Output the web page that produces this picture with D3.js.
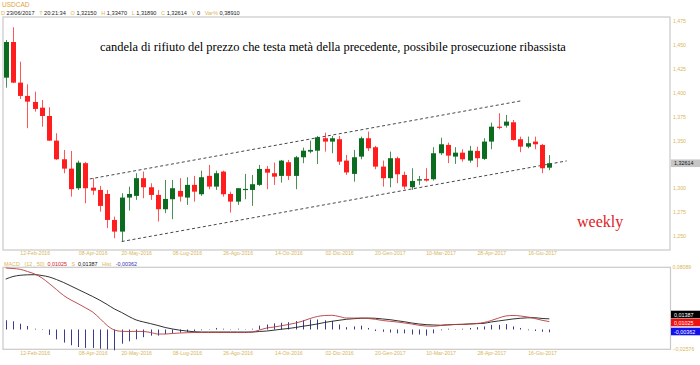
<!DOCTYPE html>
<html><head><meta charset="utf-8">
<script src="https://cdn.jsdelivr.net/npm/d3@7"></script>
<style>
html,body{margin:0;padding:0;background:#fff;}
svg{display:block;font-family:"Liberation Sans",Arial,sans-serif;}
</style></head>
<body>
<svg id="c" width="700" height="365"></svg>
<script>
// ---- data (weekly USDCAD candles, 15-Jan-2016 .. 23-Jun-2017) ----
const openV  = [1.4157,1.4530,1.4105,1.3966,1.3903,1.3843,1.3756,1.3498,1.3303,1.3205,1.3000,1.3262,1.3006,1.2982,1.2940,1.2668,1.2546,1.2902,1.2920,1.3105,1.3010,1.2930,1.2780,1.2885,1.2972,1.2902,1.3035,1.2937,1.3129,1.3017,1.3174,1.2940,1.2860,1.2982,1.2982,1.3035,1.3202,1.3157,1.3129,1.3272,1.3129,1.3324,1.3383,1.3393,1.3523,1.3488,1.3513,1.3289,1.3150,1.3331,1.3523,1.3429,1.3226,1.3105,1.3314,1.3139,1.3010,1.3080,1.3097,1.3094,1.3366,1.3453,1.3331,1.3372,1.3289,1.3390,1.3307,1.3488,1.3644,1.3655,1.3690,1.3513,1.3435,1.3488,1.3453,1.3215];
const highV  = [1.4551,1.4684,1.4324,1.4088,1.4010,1.3924,1.3847,1.3575,1.3401,1.3390,1.3289,1.3275,1.3105,1.3024,1.2982,1.2703,1.2948,1.3017,1.3157,1.3174,1.3052,1.2982,1.3087,1.3087,1.3105,1.3115,1.3129,1.3184,1.3244,1.3184,1.3184,1.2964,1.3000,1.3150,1.3139,1.3244,1.3233,1.3268,1.3296,1.3296,1.3338,1.3425,1.3498,1.3547,1.3582,1.3547,1.3547,1.3348,1.3401,1.3540,1.3592,1.3443,1.3289,1.3383,1.3331,1.3174,1.3209,1.3129,1.3209,1.3429,1.3529,1.3477,1.3429,1.3408,1.3443,1.3435,1.3523,1.3686,1.3785,1.3767,1.3714,1.3540,1.3540,1.3540,1.3463,1.3347];
const lowV   = [1.4052,1.4100,1.3934,1.3628,1.3801,1.3644,1.3495,1.3296,1.3157,1.2912,1.2982,1.2843,1.2930,1.2755,1.2582,1.2477,1.2441,1.2766,1.2878,1.2895,1.2878,1.2651,1.2739,1.2676,1.2860,1.2825,1.2860,1.2920,1.2990,1.2982,1.2912,1.2745,1.2825,1.2885,1.2815,1.3024,1.2990,1.3035,1.3059,1.3087,1.2990,1.3262,1.3366,1.3254,1.3383,1.3366,1.3244,1.3139,1.3069,1.3303,1.3390,1.3199,1.3017,1.3010,1.3052,1.2990,1.2982,1.3035,1.3069,1.3080,1.3348,1.3262,1.3254,1.3278,1.3268,1.3220,1.3296,1.3408,1.3617,1.3634,1.3498,1.3377,1.3418,1.3408,1.3157,1.3189];
const closeV = [1.4530,1.4105,1.3966,1.3906,1.3830,1.3756,1.3498,1.3303,1.3205,1.2990,1.3268,1.3000,1.2975,1.2815,1.2668,1.2546,1.2902,1.2940,1.3105,1.3010,1.2930,1.2780,1.2888,1.3000,1.2912,1.3035,1.2964,1.3115,1.3017,1.3157,1.2937,1.2860,1.3000,1.2993,1.3042,1.3202,1.3163,1.3121,1.3289,1.3129,1.3324,1.3393,1.3401,1.3533,1.3488,1.3523,1.3278,1.3165,1.3324,1.3523,1.3418,1.3226,1.3105,1.3314,1.3146,1.3017,1.3076,1.3094,1.3080,1.3366,1.3460,1.3341,1.3372,1.3303,1.3393,1.3314,1.3488,1.3644,1.3634,1.3697,1.3505,1.3435,1.3471,1.3460,1.3209,1.32614];

const macdV = [0.0800,0.0793,0.0783,0.0754,0.0722,0.0670,0.0598,0.0520,0.0442,0.0384,0.0335,0.0282,0.0227,0.0143,0.0052,-0.0007,-0.0024,-0.0026,-0.0024,-0.0026,-0.0039,-0.0059,-0.0059,-0.0052,-0.0046,-0.0042,-0.0039,-0.0039,-0.0039,-0.0039,-0.0039,-0.0039,-0.0039,-0.0039,-0.0033,-0.0007,0.0019,0.0032,0.0048,0.0065,0.0084,0.0110,0.0143,0.0169,0.0182,0.0185,0.0169,0.0149,0.0149,0.0149,0.0143,0.0133,0.0117,0.0107,0.0098,0.0085,0.0072,0.0055,0.0045,0.0042,0.0052,0.0062,0.0065,0.0065,0.0072,0.0078,0.0091,0.0117,0.0149,0.0176,0.0182,0.0176,0.0163,0.0143,0.0120,0.01025];
const signalV = [0.0655,0.0689,0.0705,0.0711,0.0713,0.0702,0.0683,0.0650,0.0611,0.0566,0.0520,0.0475,0.0429,0.0380,0.0325,0.0267,0.0221,0.0169,0.0124,0.0098,0.0076,0.0052,0.0026,0.0007,-0.0009,-0.0020,-0.0029,-0.0033,-0.0033,-0.0033,-0.0033,-0.0033,-0.0033,-0.0033,-0.0033,-0.0026,-0.0020,-0.0009,0.0003,0.0013,0.0026,0.0042,0.0056,0.0072,0.0091,0.0107,0.0120,0.0133,0.0140,0.0146,0.0149,0.0146,0.0137,0.0128,0.0114,0.0101,0.0085,0.0072,0.0063,0.0059,0.0055,0.0059,0.0065,0.0068,0.0072,0.0076,0.0081,0.0098,0.0111,0.0124,0.0137,0.0146,0.0152,0.0153,0.0143,0.01387];
const histV = [0.0120,0.0107,0.0075,0.0045,0.0010,-0.0005,-0.0070,-0.0128,-0.0170,-0.0205,-0.0228,-0.0240,-0.0240,-0.0250,-0.0258,-0.0270,-0.0185,-0.0153,-0.0127,-0.0100,-0.0080,-0.0080,-0.0060,-0.0050,-0.0040,-0.0030,-0.0020,-0.0010,0.0005,0.0020,0.0010,0.0005,0.0010,0.0005,0.0010,0.0050,0.0065,0.0080,0.0087,0.0095,0.0110,0.0120,0.0130,0.0130,0.0120,0.0110,0.0065,0.0030,0.0040,0.0050,0.0020,-0.0020,-0.0030,-0.0040,-0.0050,-0.0050,-0.0065,-0.0065,-0.0080,-0.0050,-0.0010,0.0010,0.0005,0.0010,0.0020,0.0030,0.0040,0.0060,0.0060,0.0070,0.0040,0.0020,-0.0010,-0.0020,-0.0030,-0.00362];

const priceTicks = [1.250,1.275,1.300,1.350,1.375,1.400,1.425,1.450,1.475];
const dateTickIdx = [4,12,18,25,32,39,46,53,60,67,74];
const dateTickLabels = ["12-Feb-2016","08-Apr-2016","20-May-2016","08-Lug-2016","26-Ago-2016","14-Ott-2016","02-Dic-2016","20-Gen-2017","10-Mar-2017","28-Apr-2017","16-Giu-2017"];
const channelUpper = [[11.6,1.3097],[71.0,1.3913]];
const channelLower = [[16.0,1.2442],[77.4,1.3286]];
const lastPrice = 1.32614;
const macdRange = [-0.02576, 0.08089];

// ---- drawing ----
const svg = d3.select("#c");
const gold = "#d9b658";
const up = "#0b6b1e", down = "#ff1d1d";
const n = closeV.length;
const candles = d3.range(n).map(i => ({i, o:openV[i], h:highV[i], l:lowV[i], c:closeV[i]}));

const x = d3.scaleLinear().domain([0, 75]).range([5.7, 549.3]);
const y = d3.scaleLinear().domain([1.25, 1.475]).range([236, 21]);
const ym = d3.scaleLinear().domain(macdRange).range([349.3, 267.3]);

// header
svg.append("text").attr("x",2).attr("y",7).attr("font-size",6.5).attr("fill","#e0a33a").text("USDCAD");
const hdr = svg.append("text").attr("x",1).attr("y",15).attr("font-size",5.6);
[["D ",gold],["23/06/2017   ","#222"],["T ",gold],["20:21:34   ","#222"],["O ",gold],["1,32150   ","#222"],
 ["H ",gold],["1,33470   ","#222"],["L ",gold],["1,31890   ","#222"],["C ",gold],["1,32614   ","#222"],
 ["V ",gold],["0   ","#222"],["Var% ",gold],["0,38910","#222"]].forEach(([t,c]) =>
  hdr.append("tspan").attr("fill",c).attr("xml:space","preserve").text(t));

// main frame
svg.append("rect").attr("x",3).attr("y",17).attr("width",667).attr("height",233)
  .attr("fill","none").attr("stroke","#c9c9c9").attr("stroke-width",1.2);

// price axis
const yAxis = d3.axisRight(y).tickValues(priceTicks).tickSize(0).tickPadding(3)
  .tickFormat(d => d3.format(".3f")(d).replace(".", ","));
const ya = svg.append("g").attr("transform","translate(670,0)").call(yAxis);
ya.select(".domain").remove();
ya.selectAll("text").attr("fill",gold).attr("font-size",5.2).attr("font-family","Liberation Sans");

// last price tag
svg.append("rect").attr("x",671).attr("y",y(lastPrice)-3.8).attr("width",29).attr("height",7.6).attr("fill","#c6c6c6");
svg.append("text").attr("x",674).attr("y",y(lastPrice)+2).attr("font-size",5.4).attr("fill","#111")
  .text(d3.format(".5f")(lastPrice).replace(".", ","));

// date axes
function dateAxis(yPos){
  const ax = d3.axisBottom(x).tickValues(dateTickIdx).tickSize(0).tickPadding(0)
    .tickFormat((d,k) => dateTickLabels[k]);
  const g = svg.append("g").attr("transform",`translate(0,${yPos})`).call(ax);
  g.select(".domain").remove();
  g.selectAll("text").attr("fill",gold).attr("font-size",5.2).attr("font-family","Liberation Sans");
}
dateAxis(251);
dateAxis(351);

// channel lines
const line2 = d3.line().x(d => x(d[0])).y(d => y(d[1]));
[channelUpper, channelLower].forEach(c =>
  svg.append("path").attr("d", line2(c)).attr("fill","none").attr("stroke","#333")
    .attr("stroke-width",0.9).attr("stroke-dasharray","3,2.5"));

// candles
const cg = svg.append("g");
cg.selectAll("line.w").data(candles).join("line")
  .attr("x1", d => Math.round(x(d.i))+0.5).attr("x2", d => Math.round(x(d.i))+0.5)
  .attr("y1", d => y(d.h)).attr("y2", d => y(d.l))
  .attr("stroke", d => d.c >= d.o ? up : down).attr("stroke-width",1).attr("opacity",0.75);
cg.selectAll("rect.b").data(candles).join("rect")
  .attr("x", d => Math.round(x(d.i))-2).attr("width",5)
  .attr("y", d => y(Math.max(d.o,d.c)))
  .attr("height", d => Math.max(1.2, Math.abs(y(d.o)-y(d.c))))
  .attr("fill", d => d.c >= d.o ? up : down);

// annotations
svg.append("text").attr("x",100).attr("y",51).attr("font-family","'Liberation Serif','Times New Roman',serif")
  .attr("font-size",12.45).attr("fill","#000")
  .text("candela di rifiuto del prezzo che testa metà della precedente, possibile prosecuzione ribassista");
svg.append("text").attr("x",577).attr("y",227).attr("font-family","'Liberation Serif','Times New Roman',serif")
  .attr("font-size",16).attr("fill","#e0201e").text("weekly");

// MACD header
const mh = svg.append("text").attr("x",4).attr("y",266).attr("font-size",5.4);
[["MACD   ",gold],["(12 , 50)  ",gold],["0,01025   ","#d62020"],["S  ",gold],["0,01387   ","#111"],
 ["Hist   ",gold],["-0,00362","#3333aa"]].forEach(([t,c]) =>
  mh.append("tspan").attr("fill",c).attr("xml:space","preserve").text(t));

// MACD frame
svg.append("rect").attr("x",3).attr("y",267.3).attr("width",667.5).attr("height",82)
  .attr("fill","none").attr("stroke","#c9c9c9").attr("stroke-width",1.2);

// MACD axis labels (top/bottom)
const ma = d3.axisRight(ym).tickValues(macdRange).tickSize(0).tickPadding(2)
  .tickFormat(d => d3.format(".5f")(d).replace(".", ","));
const mag = svg.append("g").attr("transform","translate(670.5,0)").call(ma);
mag.select(".domain").remove();
mag.selectAll("text").attr("fill",gold).attr("font-size",5.2).attr("font-family","Liberation Sans");

// histogram
svg.append("g").selectAll("line").data(histV).join("line")
  .attr("x1",(d,i)=>Math.round(x(i))+0.5).attr("x2",(d,i)=>Math.round(x(i))+0.5)
  .attr("y1", ym(0)).attr("y2", d => ym(d))
  .attr("stroke","#3b3b8f").attr("stroke-width",1);

// MACD / signal lines
const ml = d3.line().x((d,i)=>x(i)).y(d=>ym(d)).curve(d3.curveMonotoneX);
svg.append("path").attr("d", ml(signalV)).attr("fill","none").attr("stroke","#1a1a1a").attr("stroke-width",0.9);
svg.append("path").attr("d", ml(macdV)).attr("fill","none").attr("stroke","#b83a3a").attr("stroke-width",0.9);

// value tags
[[signalV[n-1],"#000",314.5],[macdV[n-1],"#ee1111",322.5],[histV[n-1],"#1111ee",331.5]].forEach(([v,c,yy]) => {
  svg.append("rect").attr("x",671).attr("y",yy-3.8).attr("width",29).attr("height",7.6).attr("fill",c);
  svg.append("text").attr("x",674).attr("y",yy+2).attr("font-size",5.4).attr("fill","#fff")
    .text(d3.format(".5f")(v).replace(".", ",").replace("−","-"));
});
</script>
</body></html>
